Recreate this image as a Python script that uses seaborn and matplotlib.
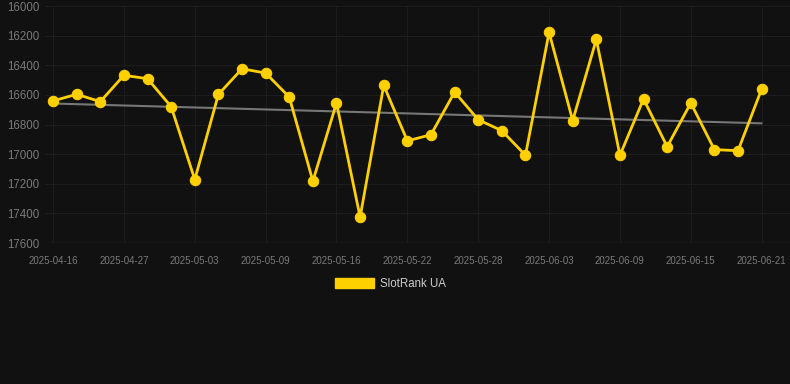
import matplotlib
matplotlib.use("Agg")
import matplotlib.pyplot as plt
from matplotlib.patches import Patch
import numpy as np
import pandas as pd
import seaborn as sns

DATES = [
    "2025-04-16", "2025-04-20", "2025-04-24", "2025-04-27", "2025-04-29",
    "2025-05-01", "2025-05-03", "2025-05-05", "2025-05-07", "2025-05-09",
    "2025-05-11", "2025-05-14", "2025-05-16", "2025-05-18", "2025-05-20",
    "2025-05-22", "2025-05-24", "2025-05-26", "2025-05-28", "2025-05-30",
    "2025-06-01", "2025-06-03", "2025-06-05", "2025-06-07", "2025-06-09",
    "2025-06-11", "2025-06-13", "2025-06-15", "2025-06-17", "2025-06-19",
    "2025-06-21",
]
RANKS = [
    16640, 16595, 16645, 16467, 16490, 16679, 17171, 16596, 16423, 16452,
    16614, 17182, 16654, 17425, 16535, 16910, 16868, 16580, 16767, 16841,
    17007, 16177, 16773, 16225, 17007, 16627, 16949, 16654, 16969, 16976,
    16560,
]
Y_TICKS = [16000, 16200, 16400, 16600, 16800, 17000, 17200, 17400, 17600]
SERIES_NAME = "SlotRank UA"

BG = "#111111"
GOLD = "#FFD000"
GRID = "#1d1d1d"
TICK = "#7a7a7a"

sns.set_theme(style="dark")
plt.rcParams["font.family"] = ["Liberation Sans", "DejaVu Sans"]

df = pd.DataFrame({"idx": np.arange(len(DATES)), "date": DATES, "rank": RANKS})
slope, intercept = np.polyfit(df["idx"], df["rank"], 1)
df["trend"] = intercept + slope * df["idx"]

fig = plt.figure(figsize=(7.9, 3.84), dpi=100, facecolor=BG)
ax = fig.add_axes([0.057, 0.367, 0.943, 0.617])
ax.set_facecolor(BG)

sns.lineplot(data=df, x="idx", y="trend", ax=ax, color="#777777", lw=1.5)
sns.lineplot(
    data=df, x="idx", y="rank", ax=ax, color=GOLD, lw=2.0,
    marker="o", markersize=7.5, markeredgecolor=GOLD,
)

ax.set_ylim(Y_TICKS[-1], Y_TICKS[0])
ax.set_yticks(Y_TICKS)
ax.set_xlim(-0.34, 31.2)
tick_idx = list(range(0, len(DATES), 3))
ax.set_xticks(tick_idx)
ax.set_xticklabels([DATES[i] for i in tick_idx])

ax.grid(True, color=GRID, lw=0.8)
ax.axhline(Y_TICKS[-1], color="#2a2a2a", lw=1.0, zorder=0)
for s in ax.spines.values():
    s.set_visible(False)
ax.tick_params(axis="y", colors=TICK, labelsize=8.3, length=0, pad=4)
ax.tick_params(axis="x", colors=TICK, labelsize=7, length=0, pad=9)
ax.set_xlabel("")
ax.set_ylabel("")

handles = [Patch(facecolor=GOLD, edgecolor=GOLD, label=SERIES_NAME)]
fig.legend(
    handles=handles, loc="center", bbox_to_anchor=(0.494, 0.26),
    frameon=False, fontsize=8.3, labelcolor="#cccccc",
    handlelength=3.4, handleheight=1.0, handletextpad=0.5,
)

fig.savefig("out.png", dpi=100, facecolor=BG)
